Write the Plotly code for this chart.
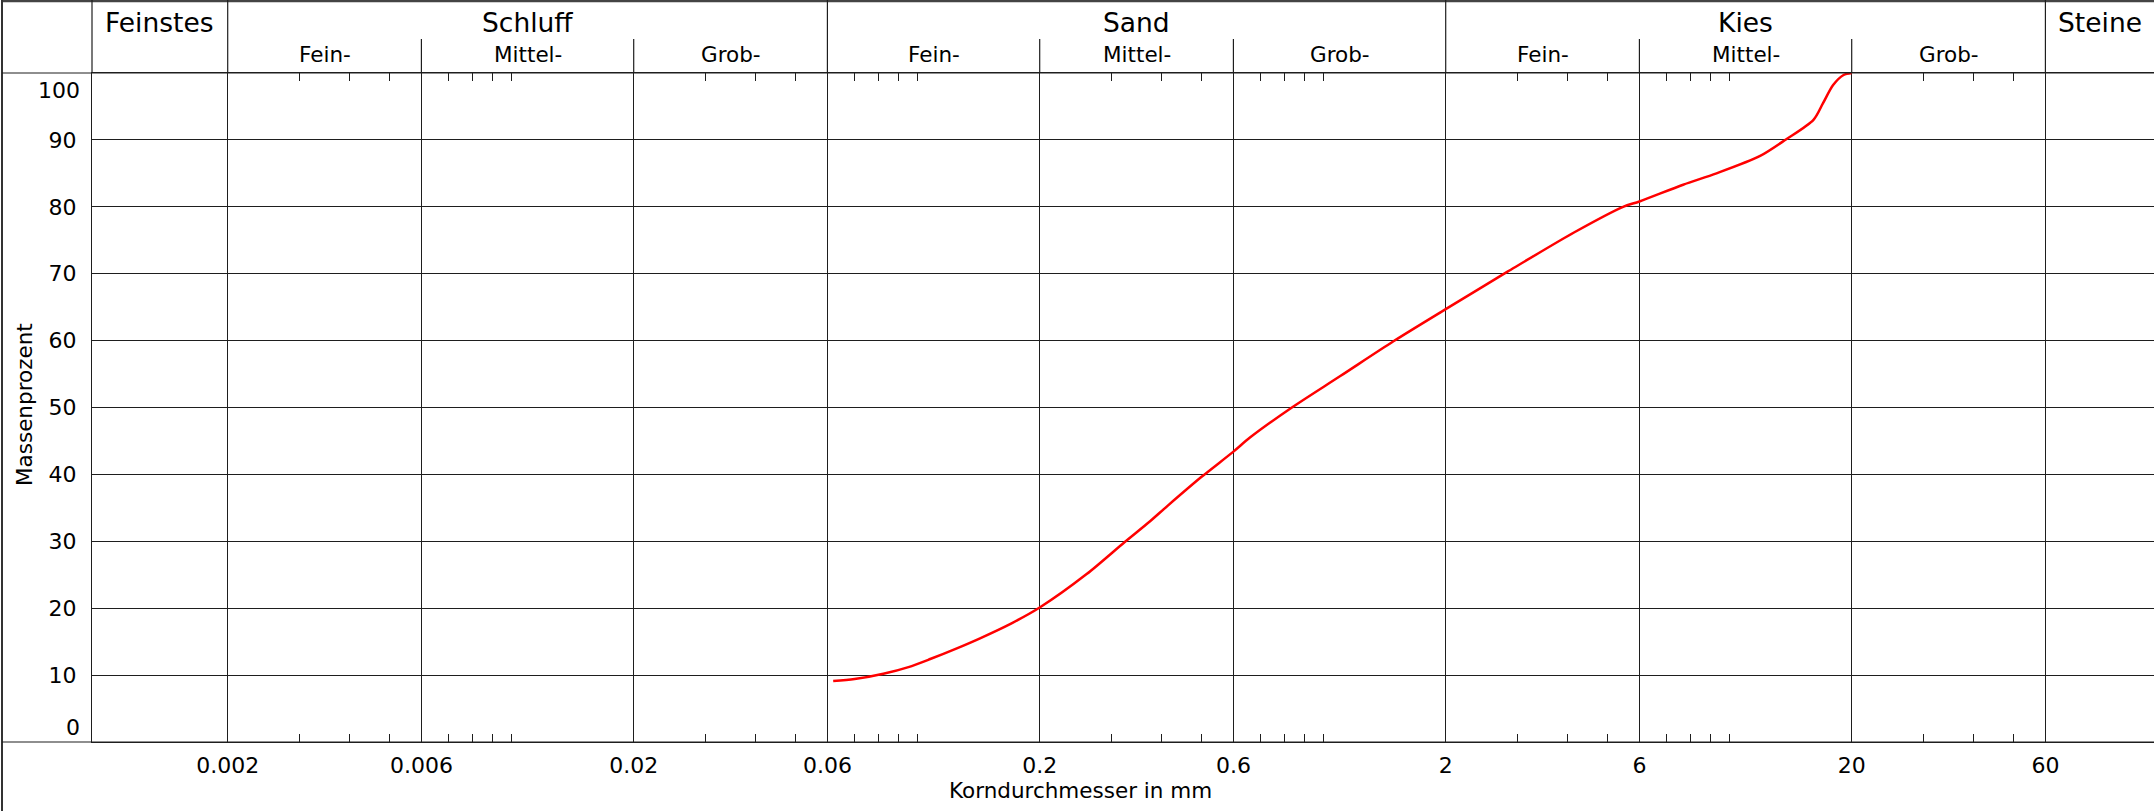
import math
import plotly.graph_objects as go

# ---------------- data ----------------
grain_mm = [0.062, 0.070, 0.0824, 0.095, 0.1075, 0.125, 0.1426, 0.17, 0.2, 0.261, 0.324,
            0.374, 0.413, 0.5, 0.6, 0.659, 0.836, 1.1, 1.487, 2.0, 2.84, 4.15, 5.47, 6.0,
            7.69, 9.29, 11.9, 13.8, 16.1, 17.0, 18.0, 19.1, 20.0]
passing_pct = [9.1, 9.4, 10.2, 11.2, 12.4, 14.0, 15.5, 17.7, 20.1, 25.1, 29.9,
               33.0, 35.3, 39.6, 43.4, 45.5, 50.0, 54.7, 59.9, 64.7, 70.3, 76.2, 80.0, 80.8,
               83.3, 85.0, 87.6, 90.1, 93.0, 95.5, 98.2, 99.7, 100.0]

x_tickvals = [0.002, 0.006, 0.02, 0.06, 0.2, 0.6, 2, 6, 20, 60]
x_ticktext = ["0.002", "0.006", "0.02", "0.06", "0.2", "0.6", "2", "6", "20", "60"]
x_minor = [0.003, 0.004, 0.005, 0.007, 0.008, 0.009, 0.01,
           0.03, 0.04, 0.05, 0.07, 0.08, 0.09, 0.1,
           0.3, 0.4, 0.5, 0.7, 0.8, 0.9, 1.0,
           3, 4, 5, 7, 8, 9, 10,
           30, 40, 50]
y_tickvals = [10, 20, 30, 40, 50, 60, 70, 80, 90]

main_groups = ["Feinstes", "Schluff", "Sand", "Kies", "Steine"]
main_bounds = [0.002, 0.06, 2, 60]
sub_groups = ["Fein-", "Mittel-", "Grob-"]
sub_bounds = {"Schluff": [0.002, 0.006, 0.02, 0.06],
              "Sand": [0.06, 0.2, 0.6, 2],
              "Kies": [2, 6, 20, 60]}

# ---------------- layout geometry ----------------
W, H = 2154, 811
ML, MR, MT, MB = 92, 0, 73, 69
PW, PH = W - ML - MR, H - MT - MB
XMIN, XMAX = -3.0332, 2.0456   # log10 range
FONT = "DejaVu Sans, Verdana, sans-serif"
LC = "#1e1e1e"


def xp(v):
    return (math.log10(v) - XMIN) / (XMAX - XMIN)


def ypix(Y):
    return (H - MB - Y) / PH


def xpix(X):
    return (X - ML) / PW


fig = go.Figure()
fig.add_trace(go.Scatter(x=grain_mm, y=passing_pct, mode="lines", cliponaxis=False,
                         line=dict(color="#ff0000", width=2.5, shape="spline", smoothing=0.8),
                         showlegend=False, hoverinfo="skip"))

shapes = []
ann = []
# outer border
shapes.append(dict(type="line", xref="paper", yref="paper", x0=xpix(2), x1=1.0,
                   y0=ypix(1), y1=ypix(1), line=dict(color="#444", width=2.5)))
shapes.append(dict(type="line", xref="paper", yref="paper", x0=xpix(2), x1=xpix(2),
                   y0=ypix(0), y1=ypix(H), line=dict(color="#333", width=2)))
# plot top / bottom lines extended to left border
for yy in (0, 1):
    shapes.append(dict(type="line", xref="paper", yref="paper", x0=xpix(2), x1=1.0,
                       y0=yy, y1=yy, line=dict(color=LC, width=1.2)))
# header verticals: y-axis and main bounds
for px in [0.0] + [xp(b) for b in main_bounds]:
    shapes.append(dict(type="line", xref="paper", yref="paper", x0=px, x1=px,
                       y0=1, y1=ypix(0), line=dict(color=LC, width=1.2)))
# header sub dividers
for g, bnds in sub_bounds.items():
    for b in bnds[1:-1]:
        shapes.append(dict(type="line", xref="paper", yref="paper", x0=xp(b), x1=xp(b),
                           y0=1, y1=ypix(39), line=dict(color=LC, width=1.2)))

# header labels
edges = [0.0] + [xp(b) for b in main_bounds] + [1.0]
for i, g in enumerate(main_groups):
    ann.append(dict(text=g, xref="paper", yref="paper", x=(edges[i] + edges[i + 1]) / 2,
                    y=ypix(22), xanchor="center", yanchor="middle", showarrow=False,
                    font=dict(family=FONT, size=26.5, color="#000")))
for g, bnds in sub_bounds.items():
    for j, s in enumerate(sub_groups):
        cx = (xp(bnds[j]) + xp(bnds[j + 1])) / 2
        ann.append(dict(text=s, xref="paper", yref="paper", x=cx, y=ypix(55),
                        xanchor="center", yanchor="middle", showarrow=False,
                        font=dict(family=FONT, size=21.5, color="#000")))

# y edge labels 0 and 100 (shifted inside)
ann.append(dict(text="0", xref="paper", yref="y", x=0, y=0, xanchor="right", yanchor="middle",
                xshift=-10, yshift=15, showarrow=False, font=dict(family=FONT, size=22, color="#000")))
ann.append(dict(text="100", xref="paper", yref="y", x=0, y=100, xanchor="right", yanchor="middle",
                xshift=-10, yshift=-17, showarrow=False, font=dict(family=FONT, size=22, color="#000")))
# axis titles
ann.append(dict(text="Massenprozent", xref="paper", yref="paper", x=xpix(24), y=ypix(405),
                xanchor="center", yanchor="middle", textangle=-90, showarrow=False,
                font=dict(family=FONT, size=21.5, color="#000")))
ann.append(dict(text="Korndurchmesser in mm", xref="paper", yref="paper", x=xpix(1080),
                y=ypix(790), xanchor="center", yanchor="middle", showarrow=False,
                font=dict(family=FONT, size=21.5, color="#000")))

fig.update_layout(
    width=W, height=H, autosize=False,
    margin=dict(l=ML, r=MR, t=MT, b=MB, pad=0),
    paper_bgcolor="white", plot_bgcolor="white",
    font=dict(family=FONT, size=22, color="#000"),
    shapes=shapes, annotations=ann,
    xaxis=dict(type="log", range=[XMIN, XMAX], tickvals=x_tickvals, ticktext=x_ticktext,
               showgrid=True, gridcolor=LC, gridwidth=1.2, ticks="",
               showline=True, linecolor=LC, linewidth=1.2, mirror="allticks",
               zeroline=False, ticklabelstandoff=3,
               tickfont=dict(family=FONT, size=22, color="#000"),
               minor=dict(tickvals=x_minor, ticks="inside", ticklen=8, tickwidth=1.2,
                          tickcolor=LC, showgrid=False)),
    yaxis=dict(range=[0, 100], tickvals=y_tickvals, showgrid=True, gridcolor=LC, gridwidth=1.2,
               ticks="", showline=True, linecolor=LC, linewidth=1.2, zeroline=False,
               ticklabelstandoff=10, tickfont=dict(family=FONT, size=22, color="#000")),
)

fig.write_html("out.html", config={"displayModeBar": False},
               post_script="document.body.style.margin='0';document.body.style.overflow='hidden';")
